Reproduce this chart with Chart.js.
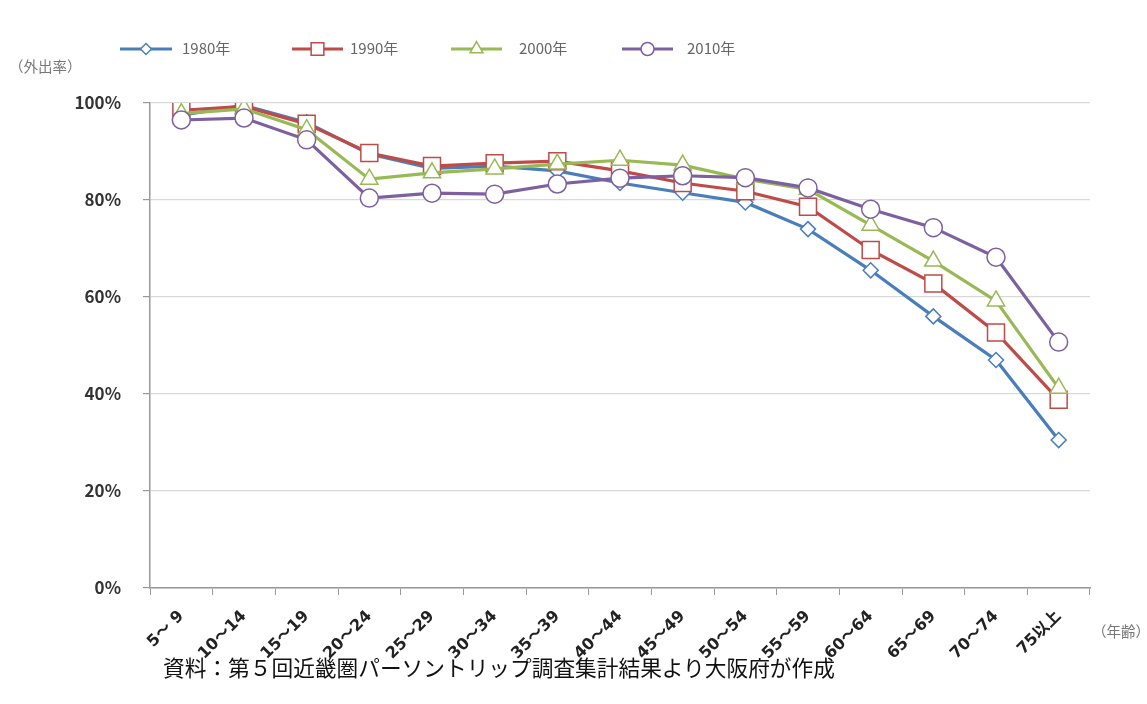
<!DOCTYPE html>
<html lang="ja">
<head>
<meta charset="utf-8">
<script src="https://cdn.jsdelivr.net/npm/chart.js@4.4.1/dist/chart.umd.min.js"></script>
<style>
  html, body { margin: 0; padding: 0; background: #fff; }
  #wrap { position: relative; width: 1147px; height: 704px; font-family: "Noto Sans CJK JP", sans-serif; }
  #chart { position: absolute; left: 0; top: 0; }
  .unit { position: absolute; color: #777; font-size: 14.5px; white-space: nowrap; }
  #yunit { left: 9px; top: 55px; }
  #xunit { left: 1092px; top: 620px; }
  #source { position: absolute; left: 163px; top: 651px; font-size: 21.7px; color: #111; white-space: nowrap; }
</style>
</head>
<body>
<div id="wrap">
  <canvas id="chart" width="1147" height="704"></canvas>
  <div class="unit" id="yunit">（外出率）</div>
  <div class="unit" id="xunit">（年齢）</div>
  <div id="source">資料：第５回近畿圏パーソントリップ調査集計結果より大阪府が作成</div>
</div>
<script>
// 年齢階層
const ageGroups = ['5～ 9', '10～14', '15～19', '20～24', '25～29', '30～34', '35～39',
  '40～44', '45～49', '50～54', '55～59', '60～64', '65～69', '70～74', '75以上'];

// 外出率（%）
const rate1980 = [97.5, 99.5, 96, 89.5, 86.5, 87, 86, 83.5, 81.5, 79.5, 74, 65.5, 56, 47, 30.5];
const rate1990 = [98.5, 99.3, 95.7, 89.7, 87, 87.6, 88, 86, 83.5, 81.8, 78.6, 69.7, 62.8, 52.7, 38.8];
const rate2000 = [97.8, 98.8, 94.5, 84.3, 85.6, 86.4, 87.4, 88.2, 87.2, 84.3, 82.2, 74.8, 67.4, 59.2, 41.2];
const rate2010 = [96.5, 96.9, 92.4, 80.4, 81.4, 81.2, 83.3, 84.5, 85, 84.6, 82.5, 78.1, 74.3, 68.2, 50.7];

const yTicks = [0, 20, 40, 60, 80, 100];

const series = [
  { label: '1980年', data: rate1980, color: '#4a7ebb', style: 'rectRot', r: 7.5, lr: 5.5, order: 4 },
  { label: '1990年', data: rate1990, color: '#be4b48', style: 'rect', r: 12, lr: 9, order: 3 },
  { label: '2000年', data: rate2000, color: '#98b954', style: 'triangle', r: 10, lr: 7.5, order: 2 },
  { label: '2010年', data: rate2010, color: '#7d60a0', style: 'circle', r: 9, lr: 6.5, order: 1 }
];

// 凡例（線＋マーカー）
const legendPos = [
  { x1: 120, x2: 172, tx: 182 },
  { x1: 292, x2: 343, tx: 350 },
  { x1: 451, x2: 502, tx: 519 },
  { x1: 622, x2: 673, tx: 687 }
];
const lineLegend = {
  id: 'lineLegend',
  afterDraw(chart) {
    const ctx = chart.ctx;
    const y = 49;
    ctx.save();
    series.forEach((s, i) => {
      const p = legendPos[i];
      ctx.strokeStyle = s.color;
      ctx.lineWidth = 3;
      ctx.beginPath();
      ctx.moveTo(p.x1, y);
      ctx.lineTo(p.x2, y);
      ctx.stroke();
      ctx.fillStyle = '#fff';
      ctx.lineWidth = 1.5;
      Chart.helpers.drawPoint(ctx, { pointStyle: s.style, radius: s.lr, borderWidth: 1.5 }, (p.x1 + p.x2) / 2, y);
      ctx.fillStyle = '#666';
      ctx.font = '15px "Noto Sans CJK JP", sans-serif';
      ctx.textBaseline = 'middle';
      ctx.fillText(s.label, p.tx, y - 1);
    });
    ctx.restore();
  }
};

new Chart(document.getElementById('chart'), {
  type: 'line',
  data: {
    labels: ageGroups,
    datasets: series.map(s => ({
      label: s.label,
      data: s.data,
      order: s.order,
      borderColor: s.color,
      borderWidth: 3.2,
      pointStyle: s.style,
      pointRadius: s.r,
      pointBorderWidth: 1.5,
      pointBorderColor: s.color,
      pointBackgroundColor: '#fff',
      tension: 0,
      fill: false
    }))
  },
  options: {
    responsive: false,
    animation: false,
    layout: { padding: { left: 0, top: 103, right: 57, bottom: 0 } },
    plugins: {
      legend: { display: false },
      tooltip: { enabled: false }
    },
    scales: {
      x: {
        offset: true,
        grid: { offset: true, drawOnChartArea: false, tickLength: 7, tickColor: '#999' },
        border: { color: '#999', width: 1.5 },
        ticks: {
          autoSkip: false,
          minRotation: 45,
          maxRotation: 45,
          padding: 12,
          color: '#222',
          font: { family: '"DejaVu Sans", "Noto Sans CJK JP", sans-serif', size: 16, weight: 'bold' }
        },
        afterFit(scale) { scale.height = 116; }
      },
      y: {
        min: 0,
        max: 100,
        afterBuildTicks(scale) { scale.ticks = yTicks.map(v => ({ value: v })); },
        grid: { color: '#d9d9d9', lineWidth: 1.2, tickLength: 7, tickColor: '#999' },
        border: { color: '#999', width: 1.5 },
        ticks: {
          padding: 22,
          color: '#333',
          font: { family: '"Noto Sans CJK JP", sans-serif', size: 17, weight: 'bold' },
          callback: v => v + '%'
        },
        afterFit(scale) { scale.width = 150; }
      }
    }
  },
  plugins: [lineLegend]
});
</script>
</body>
</html>
